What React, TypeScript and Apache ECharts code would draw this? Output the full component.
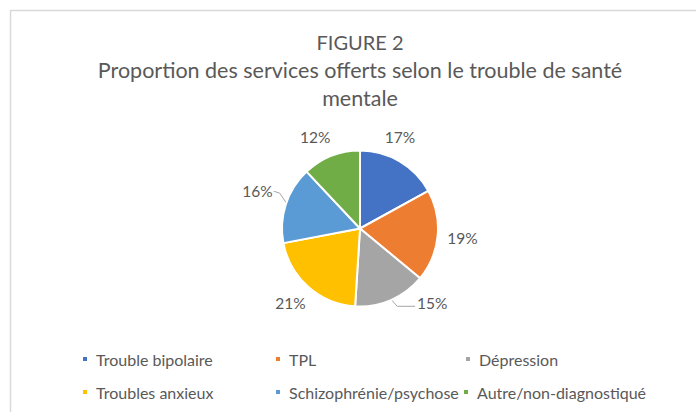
import React, { useEffect, useRef } from "react";
import * as echarts from "echarts";

const categories = [
  "Trouble bipolaire",
  "TPL",
  "Dépression",
  "Troubles anxieux",
  "Schizophrénie/psychose",
  "Autre/non-diagnostiqué",
];
const values = [17, 19, 15, 21, 16, 12];
const colors = ["#4472C4", "#ED7D31", "#A5A5A5", "#FFC000", "#5B9BD5", "#70AD47"];
const titleLines = ["FIGURE 2", "Proportion des services offerts selon le trouble de santé", "mentale"];

// label placement tweaks (angle shift in degrees, distance from centre in px, leader line)
const labelShift = [7, 0, 20.6, -1.6, -2, 4.4];
const labelDist = [100, 103, 104, 102, 109, 102];
const showLines = [false, false, true, false, true, false];

const legendPos: [number, number][] = [
  [81, 351],
  [274, 351],
  [464, 351],
  [81, 384],
  [274, 384],
  [462, 384],
];

const CX = 360;
const CY = 228.5;
const R = 78;

export default function App() {
  const ref = useRef<HTMLDivElement>(null);
  useEffect(() => {
    document.body.style.margin = "0";
    const chart = echarts.init(ref.current!, undefined, { renderer: "svg" });
    const font = "Lato, 'Open Sans', sans-serif";
    const total = values.reduce((a, b) => a + b, 0);
    const mids: number[] = [];
    let acc = 0;
    values.forEach((v) => {
      mids.push(90 - ((acc + v / 2) / total) * 360);
      acc += v;
    });
    chart.setOption({
      animation: false,
      backgroundColor: "#ffffff",
      color: colors,
      graphic: [
        {
          type: "rect",
          shape: { x: 10.5, y: 10.5, width: 720, height: 440 },
          style: { fill: "none", stroke: "#d9d9d9", lineWidth: 1.5 },
          silent: true,
        },
        ...titleLines.map((t, i) => ({
          type: "text",
          x: CX,
          y: [42, 70, 98][i],
          style: {
            text: t,
            fill: "#595959",
            font: `${i === 0 ? 20 : 21.5}px ${font}`,
            textAlign: "center",
            textVerticalAlign: "middle",
          },
        })),
      ],
      legend: categories.map((c, i) => ({
        data: [c],
        left: legendPos[i][0],
        top: legendPos[i][1],
        padding: 0,
        itemWidth: 6,
        itemHeight: 6,
        icon: "rect",
        textStyle: { color: "#595959", fontSize: 16, fontFamily: font, padding: [0, 0, 0, 3] },
        selectedMode: false,
      })),
      series: [
        {
          type: "pie",
          center: [CX, CY],
          radius: [0, R],
          startAngle: 90,
          clockwise: true,
          itemStyle: { borderColor: "#ffffff", borderWidth: 2 },
          label: {
            show: true,
            position: "outside",
            formatter: (p: any) => `${p.value}%`,
            color: "#595959",
            fontSize: 15.5,
            fontFamily: font,
          },
          labelLine: { show: true, length: 8, length2: 8, lineStyle: { color: "#a6a6a6", width: 1 } },
          labelLayout: (p: any) => {
            const i = p.dataIndex;
            const a = ((mids[i] + labelShift[i]) * Math.PI) / 180;
            const x = CX + labelDist[i] * Math.cos(a);
            const y = CY - labelDist[i] * Math.sin(a);
            const m = (mids[i] * Math.PI) / 180;
            const ex = CX + (R - 2) * Math.cos(m);
            const ey = CY - (R - 2) * Math.sin(m);
            const hw = p.labelRect.width / 2;
            const left = Math.cos(a) < 0;
            const endX = left ? x + hw + 1 : x - hw - 2;
            const pts = showLines[i]
              ? left
                ? [[ex, ey], [endX + 6, y + 2], [endX, y]]
                : [[ex, ey], [ex + 7, y + 3], [endX, y + 3]]
              : undefined;
            return {
              x,
              y,
              align: "center",
              verticalAlign: "middle",
              labelLinePoints: pts,
            };
          },
          data: categories.map((c, i) => ({
            name: c,
            value: values[i],
            labelLine: { show: showLines[i] },
          })),
        },
      ],
    });
    return () => chart.dispose();
  }, []);
  return <div ref={ref} style={{ width: 696, height: 412 }} />;
}
